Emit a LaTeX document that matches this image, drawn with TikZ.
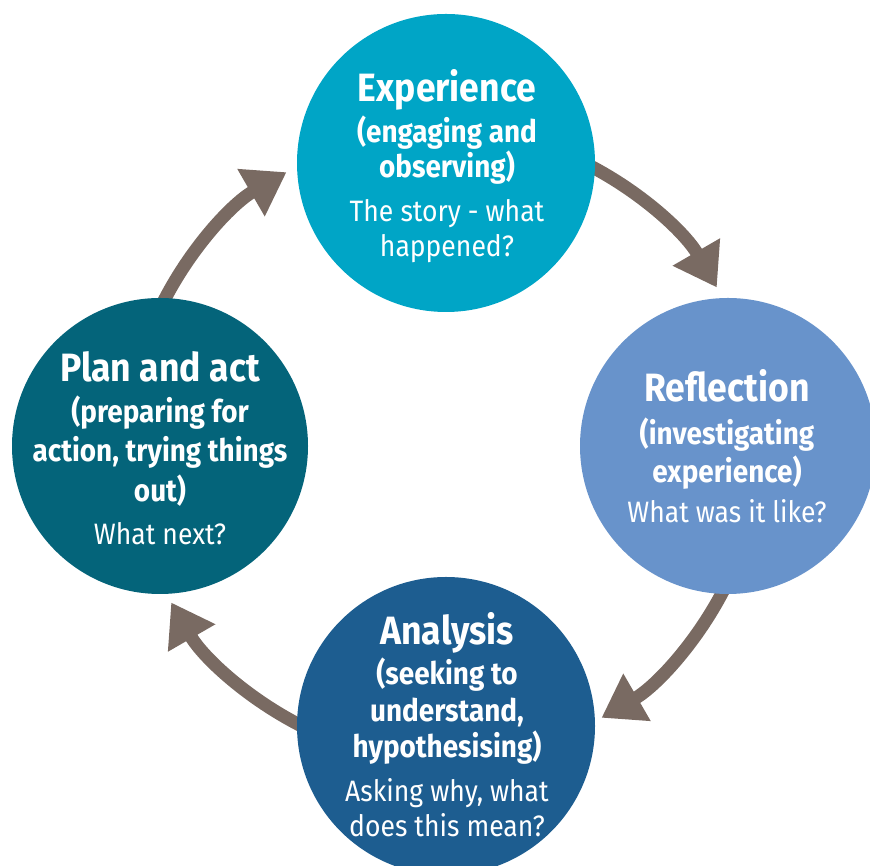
\documentclass[tikz,border=0pt]{standalone}
\usepackage{fontspec}
\setmainfont[FakeStretch=0.9]{Fira Sans}
\usetikzlibrary{arrows.meta,calc}
\definecolor{cexp}{HTML}{00A5C6}
\definecolor{crefl}{HTML}{6893CB}
\definecolor{cana}{HTML}{1D5D90}
\definecolor{cplan}{HTML}{04647A}
\definecolor{carrow}{HTML}{796A62}
\begin{document}
\begin{tikzpicture}[x=1pt,y=1pt,
  bubble/.style={circle, inner sep=0pt, minimum size=#1, draw=none},
  ttl/.style={anchor=base, text=white, inner sep=0pt, font=\fontsize{39.5}{42}\selectfont\bfseries},
  sub/.style={anchor=base, text=white, inner sep=0pt, font=\fontsize{31}{34}\selectfont\bfseries},
  qst/.style={anchor=base, text=white, inner sep=0pt, font=\fontsize{29.5}{32}\selectfont},
  flow/.style={draw=carrow, line width=13pt, -{Triangle[length=41pt,width=52pt]}}]
\useasboundingbox (0,0) rectangle (870,866);
\clip (0,0) rectangle (870,866);
\coordinate (C) at (444,421);
\coordinate (s1) at ($(C)+(155:315)$);
\coordinate (s2) at ($(C)+(65:315)$);
\coordinate (s3) at ($(C)+(-25:315)$);
\coordinate (s4) at ($(C)+(-115:315)$);
\draw[flow] (s1) arc[start angle=155, end angle=120, radius=315];
\draw[flow] (s2) arc[start angle=65, end angle=30, radius=315];
\draw[flow] (s3) arc[start angle=-25, end angle=-60, radius=315];
\draw[flow] (s4) arc[start angle=-115, end angle=-150, radius=315];
% circles
\node[bubble=298, fill=cexp] (exp) at (446,703) {};
\node[bubble=296, fill=crefl] (refl) at (728,420) {};
\node[bubble=298, fill=cana] (ana) at (446,140) {};
\node[bubble=296, fill=cplan] (plan) at (160,420) {};
% Experience
\node[ttl] (e1) at (447,764) {Experience};
\node[sub] (e2) at (447,723) {(engaging and};
\node[sub] (e3) at (447,688) {observing)};
\node[qst] (e4) at (447,644) {The story - what};
\node[qst] (e5) at (447,609) {happened?};
% Reflection
\node[ttl] (r1) at (727,464) {Reflection};
\node[sub] (r2) at (727,421) {(investigating};
\node[sub] (r3) at (727,383) {experience)};
\node[qst] (r4) at (727,343) {What was it like?};
% Plan
\node[ttl] (p1) at (160,484) {Plan and act};
\node[sub] (p2) at (160,443) {(preparing for};
\node[sub] (p3) at (160,404) {action, trying things};
\node[sub] (p4) at (160,364) {out)};
\node[qst] (p5) at (160,321) {What next?};
% Analysis
\node[ttl] (a1) at (447,221) {Analysis};
\node[sub] (a2) at (447,181) {(seeking to};
\node[sub] (a3) at (447,144) {understand,};
\node[sub] (a4) at (447,108) {hypothesising)};
\node[qst] (a5) at (447,64) {Asking why, what};
\node[qst] (a6) at (447,29) {does this mean?};
\end{tikzpicture}
\end{document}
